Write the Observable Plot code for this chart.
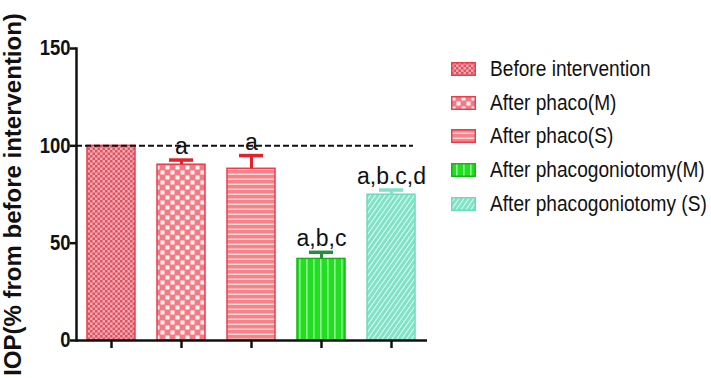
<!DOCTYPE html>
<html>
<head>
<meta charset="utf-8">
<script src="https://cdn.jsdelivr.net/npm/d3@7"></script>
<script src="https://cdn.jsdelivr.net/npm/@observablehq/plot@0.6"></script>
<style>
  html, body { margin: 0; padding: 0; background: #fff; overflow: hidden; }
  #wrap { position: relative; width: 711px; height: 378px; }
  #legend { position: absolute; left: 451px; top: 52px; font-family: "Liberation Sans", Arial, sans-serif; font-size: 22.5px; color: #111; }
  .row { display: flex; align-items: center; height: 33.8px; white-space: nowrap; }
  .row svg { margin-right: 14px; flex: none; }
  .row span { display: inline-block; transform: scaleX(0.85); transform-origin: left center; }
</style>
</head>
<body>
<svg width="0" height="0" style="position:absolute">
  <defs>
    <pattern id="p0" patternUnits="userSpaceOnUse" width="5" height="5">
      <rect width="5" height="5" fill="#f3aab2"/>
      <rect width="2.5" height="2.5" fill="#df5261"/>
      <rect x="2.5" y="2.5" width="2.5" height="2.5" fill="#df5261"/>
    </pattern>
    <pattern id="p1" patternUnits="userSpaceOnUse" width="10" height="10">
      <rect width="10" height="10" fill="#f27c86"/>
      <rect x="0.5" y="0.5" width="4" height="4" fill="#fff3f3"/>
      <rect x="5.5" y="5.5" width="4" height="4" fill="#fff3f3"/>
    </pattern>
    <pattern id="p2" patternUnits="userSpaceOnUse" width="5" height="5">
      <rect width="5" height="5" fill="#f8818a"/>
      <rect y="3.5" width="5" height="1.5" fill="#ffd8d8"/>
    </pattern>
    <pattern id="p3" patternUnits="userSpaceOnUse" width="7" height="7">
      <rect width="7" height="7" fill="#22dd22"/>
      <rect x="5" width="1.6" height="7" fill="#93f793"/>
    </pattern>
    <pattern id="p4" patternUnits="userSpaceOnUse" width="4" height="4" patternTransform="rotate(35)">
      <rect width="4" height="4" fill="#7fe3c6"/>
      <rect x="3" width="1" height="4" fill="#e6fbf4"/>
    </pattern>
  </defs>
</svg>
<div id="wrap"><div id="chart"></div><div id="legend"></div></div>
<script>
// ---- data ----
const categories = ["Before intervention", "After phaco(M)", "After phaco(S)", "After phacogoniotomy(M)", "After phacogoniotomy (S)"];
const means = [100, 90.3, 88.2, 41.9, 74.9];
const sems = [0, 2.4, 6.8, 3.4, 2.4];
const letters = ["", "a", "a", "a,b,c", "a,b.c,d"];
const yTicks = [0, 50, 100, 150];
const reference = [100];
const yLabel = "IOP(% from before intervention)";

// ---- styles ----
const fills = ["url(#p0)", "url(#p1)", "url(#p2)", "url(#p3)", "url(#p4)"];
const strokes = ["#ec3c4c", "#ec3c4c", "#ec3c4c", "#17b317", "#6cdcbc"];
const errColors = ["#e8202a", "#e8202a", "#e8202a", "#2b8a3e", "#7ee2c8"];

const data = categories.map((c, i) => ({
  cat: c, mean: means[i], sem: sems[i], top: means[i] + sems[i],
  letter: letters[i], fill: fills[i], stroke: strokes[i], err: errColors[i]
}));
const withErr = data.filter(d => d.sem > 0);

const chart = Plot.plot({
  width: 440,
  height: 378,
  marginLeft: 76,
  marginRight: 13,
  marginTop: 48,
  marginBottom: 38,
  style: { fontFamily: "'Liberation Sans', Arial, sans-serif", color: "#111", background: "transparent", overflow: "visible" },
  x: { domain: categories, paddingInner: 0.314, paddingOuter: 0.157, axis: null },
  y: { domain: [0, 150], axis: null },
  color: { type: "identity" },
  marks: [
    Plot.barY(data, { x: "cat", y: "mean", fill: "fill", stroke: "stroke", strokeWidth: 1.5 }),
    Plot.ruleY(reference, { stroke: "#111", strokeWidth: 2, strokeDasharray: "6,3", insetRight: 14 }),
    Plot.ruleX(withErr, { x: "cat", y1: "mean", y2: "top", stroke: "err", strokeWidth: 3 }),
    Plot.tickY(withErr, { x: "cat", y: "top", stroke: "err", strokeWidth: 3.5, insetLeft: 12, insetRight: 12 }),
    Plot.text(data, { x: "cat", y: "top", text: "letter", dy: -6, lineAnchor: "bottom", fontSize: 23, fill: "#111" }),
    Plot.axisY({ ticks: yTicks, tickSize: 6, tickPadding: 0, fontSize: 21.5, fontWeight: "bold", strokeWidth: 2.5, label: null }),
    Plot.axisY({ ticks: [], tickSize: 0, label: yLabel, labelAnchor: "center", labelArrow: "none", fontSize: 24, fontWeight: "bold" }),
    Plot.axisX({ tickSize: 8, tickFormat: () => "", strokeWidth: 2.5, label: null }),
    Plot.ruleY([0], { stroke: "#111", strokeWidth: 2.5 }),
    Plot.frame({ anchor: "left", stroke: "#111", strokeWidth: 2.5 })
  ]
});
document.getElementById("chart").appendChild(chart);

// condense the tick labels horizontally (the reference uses a narrow face)
chart.querySelectorAll('g[aria-label="y-axis tick label"] text').forEach(el => {
  const t = el.getAttribute("transform") || "";
  const x = el.getAttribute("x");
  if (x != null) el.setAttribute("transform", `${t} translate(${x},0) scale(0.86,1) translate(${-x},0)`);
  else el.setAttribute("transform", `${t} scale(0.86,1)`);
});

// ---- legend ----
const legend = document.getElementById("legend");
categories.forEach((c, i) => {
  const row = document.createElement("div");
  row.className = "row";
  row.innerHTML = `<svg width="25" height="14"><rect x="0.75" y="0.75" width="23.5" height="12.5" fill="${fills[i]}" stroke="${strokes[i]}" stroke-width="1.5"/></svg><span>${c}</span>`;
  legend.appendChild(row);
});
</script>
</body>
</html>
